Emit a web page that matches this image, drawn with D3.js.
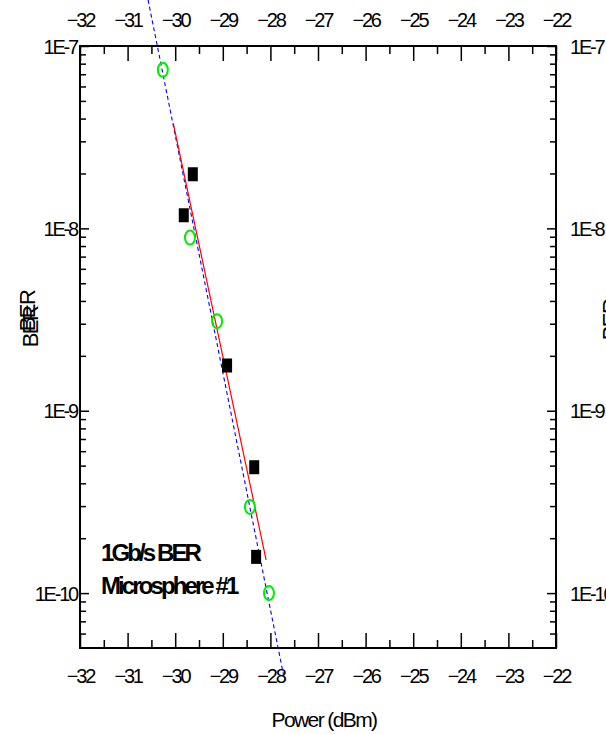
<!DOCTYPE html>
<html><head><meta charset="utf-8">
<script src="https://cdn.jsdelivr.net/npm/d3@7"></script>
<style>
html,body{margin:0;padding:0;background:#fff;overflow:hidden;}
text{font-family:"Liberation Sans",Arial,sans-serif;fill:#000;}
</style></head>
<body>
<svg id="chart" width="606" height="734"></svg>
<script>
// ---- data ----
const xTickValues = [-32,-31,-30,-29,-28,-27,-26,-25,-24,-23,-22];
const yTickValues = [1e-7, 1e-8, 1e-9, 1e-10];
const yTickLabels = ["1E-7","1E-8","1E-9","1E-10"];
// open green circles
const greenPower = [-30.26, -29.69, -29.12, -28.43, -28.03];
const greenBER   = [7.4e-8, 8.9e-9, 3.1e-9, 2.97e-10, 1.0e-10];
// filled black squares
const blackPower = [-29.63, -29.82, -28.91, -28.34, -28.30];
const blackBER   = [1.98e-8, 1.18e-8, 1.77e-9, 4.9e-10, 1.58e-10];
// fitted lines (end points)
const blueFitPower = [-30.57, -27.71];
const blueFitBER   = [1.79e-7, 3.41e-11];
const redFitPower  = [-30.04, -28.09];
const redFitBER    = [3.76e-8, 1.52e-10];
const annotation = ["1Gb/s BER", "Microsphere #1"];

const svg = d3.select("#chart");
const L = 80, R = 556, T = 46, B = 648;
const x = d3.scaleLinear().domain([-32,-22]).range([L,R]);
const y = d3.scaleLog().domain([5e-11,1e-7]).range([B,T]);

// minor ticks
const xMinor = d3.range(-31.5,-22,1);
const yMinor = [];
for (let e=-11; e<=-8; e++) for (let m=2; m<=9; m++) { const v=m*Math.pow(10,e); if (v>=5e-11 && v<1e-7) yMinor.push(v); }

const tickStyle = g => { g.select(".domain").remove(); g.selectAll("line").attr("stroke","#000").attr("stroke-width",1.5); };
const lblFont = g => g.selectAll("text").attr("font-size",20).attr("letter-spacing","-2.2px").attr("fill","#000");

// bottom axis (ticks inward)
svg.append("g").attr("transform",`translate(0,${B})`)
  .call(d3.axisTop(x).tickValues(xMinor).tickSize(8).tickFormat(""))
  .call(tickStyle);
const gb = svg.append("g").attr("transform",`translate(0,${B})`)
  .call(d3.axisTop(x).tickValues(xTickValues).tickSize(15).tickFormat(d3.format("d")))
  .call(tickStyle);
gb.selectAll("text").attr("y",35).attr("dy",0).call(s=>lblFont(gb));
// top axis
svg.append("g").attr("transform",`translate(0,${T})`)
  .call(d3.axisBottom(x).tickValues(xMinor).tickSize(8).tickFormat(""))
  .call(tickStyle);
const gt = svg.append("g").attr("transform",`translate(0,${T})`)
  .call(d3.axisBottom(x).tickValues(xTickValues).tickSize(15).tickFormat(d3.format("d")))
  .call(tickStyle);
gt.selectAll("text").attr("y",-19).attr("dy",0).call(s=>lblFont(gt));
// left axis
svg.append("g").attr("transform",`translate(${L},0)`)
  .call(d3.axisRight(y).tickValues(yMinor).tickSize(6).tickFormat(""))
  .call(tickStyle);
const gl = svg.append("g").attr("transform",`translate(${L},0)`)
  .call(d3.axisRight(y).tickValues(yTickValues).tickSize(9).tickFormat((d,i)=>yTickLabels[i]))
  .call(tickStyle);
gl.selectAll("text").attr("x",-3).attr("text-anchor","end").attr("dy","0.35em").call(s=>lblFont(gl));
// right axis
svg.append("g").attr("transform",`translate(${R},0)`)
  .call(d3.axisLeft(y).tickValues(yMinor).tickSize(6).tickFormat(""))
  .call(tickStyle);
const gr = svg.append("g").attr("transform",`translate(${R},0)`)
  .call(d3.axisLeft(y).tickValues(yTickValues).tickSize(9).tickFormat((d,i)=>yTickLabels[i]))
  .call(tickStyle);
gr.selectAll("text").attr("x",14).attr("text-anchor","start").attr("dy","0.35em").call(s=>lblFont(gr));

// frame
svg.append("rect").attr("x",L).attr("y",T).attr("width",R-L).attr("height",B-T)
  .attr("fill","none").attr("stroke","#000").attr("stroke-width",2);

// axis titles
svg.append("text").attr("x",(L+R)/2 + 6).attr("y",727).attr("text-anchor","middle")
  .attr("font-size",21).attr("letter-spacing","-1.6px").text("Power (dBm)");
svg.append("text").attr("transform","translate(35,311) rotate(-90)").attr("text-anchor","middle")
  .attr("font-size",22).attr("letter-spacing","-1.6px").text("BER");
svg.append("text").attr("transform","translate(38,327) rotate(-90)").attr("text-anchor","middle")
  .attr("font-size",22).attr("letter-spacing","-1.6px").text("BER");
svg.append("text").attr("transform","translate(618,320) rotate(-90)").attr("text-anchor","middle")
  .attr("font-size",22).attr("letter-spacing","-1.6px").text("BER");

// fit lines
const line = d3.line().x(d=>x(d[0])).y(d=>y(d[1]));
svg.append("path").datum(d3.zip(blueFitPower, blueFitBER)).attr("d",line)
  .attr("fill","none").attr("stroke","#0000ff").attr("stroke-width",1.1).attr("stroke-dasharray","4,3");
svg.append("path").datum(d3.zip(redFitPower, redFitBER)).attr("d",line)
  .attr("fill","none").attr("stroke","#ff0000").attr("stroke-width",1.2);

// markers
svg.append("g").selectAll("ellipse").data(d3.zip(greenPower, greenBER)).join("ellipse")
  .attr("cx",d=>x(d[0])).attr("cy",d=>y(d[1])).attr("rx",5).attr("ry",7)
  .attr("fill","none").attr("stroke","#00ee00").attr("stroke-width",2);
svg.append("g").selectAll("rect").data(d3.zip(blackPower, blackBER)).join("rect")
  .attr("x",d=>x(d[0])-5).attr("y",d=>y(d[1])-7).attr("width",10).attr("height",14)
  .attr("fill","#000");

// annotation
svg.append("g").selectAll("text").data(annotation).join("text")
  .attr("x",101).attr("y",(d,i)=>561+i*33)
  .attr("font-size",24).attr("font-weight","bold").attr("letter-spacing","-2.9px").text(d=>d);
</script>
</body></html>
